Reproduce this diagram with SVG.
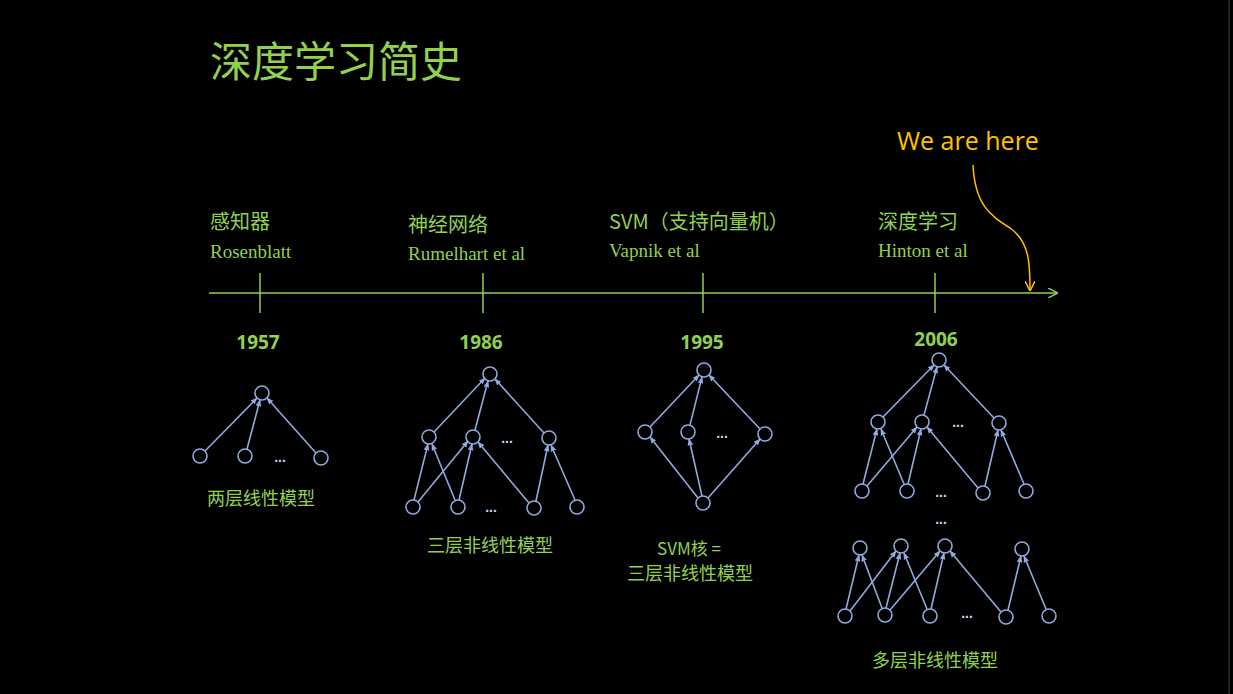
<svg xmlns="http://www.w3.org/2000/svg" width="1233" height="694" viewBox="0 0 1233 694">
<defs>
<marker id="a" viewBox="0 0 10 10" refX="9" refY="5" markerWidth="7" markerHeight="7" orient="auto-start-reverse" markerUnits="userSpaceOnUse"><path d="M0,1 L10,5 L0,9 z" fill="#8faadc"/></marker>
<marker id="g" viewBox="0 0 10 10" refX="9" refY="5" markerWidth="10" markerHeight="10" orient="auto" markerUnits="userSpaceOnUse"><path d="M0,0 L10,5 L0,10" fill="none" stroke="#92d050" stroke-width="1.5"/></marker>
<marker id="o" viewBox="0 0 10 10" refX="9" refY="5" markerWidth="10" markerHeight="10" orient="auto" markerUnits="userSpaceOnUse"><path d="M0,0 L10,5 L0,10" fill="none" stroke="#ffc000" stroke-width="1.5"/></marker>
<style>
.n{fill:none;stroke:#8faadc;stroke-width:1.6}
.e{stroke:#8faadc;stroke-width:1.6;marker-end:url(#a)}
.cn{font-family:"Noto Sans CJK SC",sans-serif;fill:#92d050}
.en{font-family:"Liberation Serif",serif;fill:#92d050;font-size:19px}
.yr{font-family:"Open Sans","Liberation Sans",sans-serif;font-weight:bold;fill:#92d050;font-size:19px;text-anchor:middle}
.dt{font-family:"Liberation Sans",sans-serif;font-weight:bold;fill:#c6d9f1;font-size:14px;text-anchor:middle}
.tk{stroke:#92d050;stroke-width:1.5}
</style>
</defs>
<rect width="1233" height="694" fill="#000"/>
<line x1="1229" y1="0" x2="1229" y2="694" stroke="#444" stroke-width="1"/>
<text x="210" y="77" class="cn" font-size="42">深度学习简史</text>
<text x="897" y="150" font-family="Open Sans,Liberation Sans,sans-serif" font-size="25" fill="#ffc000">We are here</text>
<g id="axis">
<line x1="209" y1="293" x2="1057" y2="293" stroke="#92d050" stroke-width="1.5" marker-end="url(#g)"/>
<line class="tk" x1="260" y1="273" x2="260" y2="313"/>
<line class="tk" x1="483" y1="273" x2="483" y2="313"/>
<line class="tk" x1="703" y1="273" x2="703" y2="313"/>
<line class="tk" x1="935" y1="273" x2="935" y2="313"/>
<path d="M973,165 C975,205 990,215 1010,228 C1030,242 1030,265 1030,290" fill="none" stroke="#ffc000" stroke-width="1.5" marker-end="url(#o)"/>
</g>
<g id="labels">
<text x="210" y="229" class="cn" font-size="20">感知器</text>
<text x="210" y="258" class="en">Rosenblatt</text>
<text x="408" y="232" class="cn" font-size="20">神经网络</text>
<text x="408" y="260" class="en">Rumelhart et al</text>
<text x="609" y="229" class="cn" font-size="20">SVM（支持向量机）</text>
<text x="609" y="257" class="en">Vapnik et al</text>
<text x="878" y="229" class="cn" font-size="20">深度学习</text>
<text x="878" y="257" class="en">Hinton et al</text>
<text x="258" y="349" class="yr">1957</text>
<text x="481" y="349" class="yr">1986</text>
<text x="702" y="349" class="yr">1995</text>
<text x="936" y="346" class="yr">2006</text>
<text x="261" y="505" class="cn" font-size="18" text-anchor="middle">两层线性模型</text>
<text x="490" y="552" class="cn" font-size="18" text-anchor="middle">三层非线性模型</text>
<text x="689" y="555" class="cn" font-size="17" text-anchor="middle">SVM核 =</text>
<text x="690" y="580" class="cn" font-size="18" text-anchor="middle">三层非线性模型</text>
<text x="935" y="667" class="cn" font-size="18" text-anchor="middle">多层非线性模型</text>
<text x="280" y="462" class="dt">...</text>
<text x="507" y="443" class="dt">...</text>
<text x="491" y="512" class="dt">...</text>
<text x="722" y="438" class="dt">...</text>
<text x="958" y="427" class="dt">...</text>
<text x="941" y="497" class="dt">...</text>
<text x="941" y="524" class="dt">...</text>
<text x="967" y="618" class="dt">...</text>
</g>
<g id="connectors">
<line class="e" x1="205" y1="451" x2="257" y2="398"/>
<line class="e" x1="247" y1="449" x2="260" y2="400"/>
<line class="e" x1="316" y1="453" x2="267" y2="398"/>
<line class="e" x1="434" y1="432" x2="485" y2="378"/>
<line class="e" x1="475" y1="430" x2="488" y2="381"/>
<line class="e" x1="544" y1="433" x2="495" y2="379"/>
<line class="e" x1="414" y1="500" x2="428" y2="444"/>
<line class="e" x1="418" y1="502" x2="468" y2="441"/>
<line class="e" x1="455" y1="500" x2="432" y2="444"/>
<line class="e" x1="459" y1="500" x2="472" y2="444"/>
<line class="e" x1="529" y1="503" x2="478" y2="442"/>
<line class="e" x1="536" y1="501" x2="548" y2="445"/>
<line class="e" x1="575" y1="500" x2="551" y2="445"/>
<line class="e" x1="650" y1="427" x2="699" y2="375"/>
<line class="e" x1="690" y1="425" x2="702" y2="377"/>
<line class="e" x1="760" y1="429" x2="709" y2="375"/>
<line class="e" x1="698" y1="498" x2="650" y2="437"/>
<line class="e" x1="702" y1="496" x2="689" y2="439"/>
<line class="e" x1="708" y1="498" x2="760" y2="439"/>
<line class="e" x1="883" y1="417" x2="934" y2="365"/>
<line class="e" x1="924" y1="415" x2="937" y2="367"/>
<line class="e" x1="994" y1="418" x2="944" y2="365"/>
<line class="e" x1="863" y1="484" x2="877" y2="429"/>
<line class="e" x1="867" y1="486" x2="917" y2="427"/>
<line class="e" x1="904" y1="484" x2="881" y2="429"/>
<line class="e" x1="908" y1="484" x2="921" y2="429"/>
<line class="e" x1="978" y1="488" x2="927" y2="427"/>
<line class="e" x1="985" y1="486" x2="998" y2="430"/>
<line class="e" x1="1024" y1="484" x2="1001" y2="430"/>
<line class="e" x1="846" y1="609" x2="859" y2="555"/>
<line class="e" x1="850" y1="611" x2="896" y2="551"/>
<line class="e" x1="882" y1="608" x2="862" y2="555"/>
<line class="e" x1="886" y1="608" x2="900" y2="553"/>
<line class="e" x1="890" y1="610" x2="940" y2="551"/>
<line class="e" x1="927" y1="609" x2="904" y2="553"/>
<line class="e" x1="931" y1="609" x2="944" y2="553"/>
<line class="e" x1="1001" y1="612" x2="950" y2="551"/>
<line class="e" x1="1008" y1="610" x2="1021" y2="556"/>
<line class="e" x1="1046" y1="609" x2="1024" y2="556"/>
</g>
<g id="n1957"><circle class="n" cx="262" cy="393" r="7"/><circle class="n" cx="200" cy="456" r="7"/><circle class="n" cx="245" cy="456" r="7"/><circle class="n" cx="321" cy="458" r="7"/></g>
<g id="n1986"><circle class="n" cx="490" cy="374" r="7"/><circle class="n" cx="429" cy="437" r="7"/><circle class="n" cx="473" cy="437" r="7"/><circle class="n" cx="549" cy="438" r="7"/><circle class="n" cx="413" cy="507" r="7"/><circle class="n" cx="458" cy="507" r="7"/><circle class="n" cx="534" cy="508" r="7"/><circle class="n" cx="577" cy="507" r="7"/></g>
<g id="n1995"><circle class="n" cx="704" cy="370" r="7"/><circle class="n" cx="645" cy="432" r="7"/><circle class="n" cx="688" cy="432" r="7"/><circle class="n" cx="765" cy="434" r="7"/><circle class="n" cx="703" cy="503" r="7"/></g>
<g id="n2006a"><circle class="n" cx="939" cy="360" r="7"/><circle class="n" cx="878" cy="422" r="7"/><circle class="n" cx="922" cy="422" r="7"/><circle class="n" cx="999" cy="423" r="7"/><circle class="n" cx="862" cy="491" r="7"/><circle class="n" cx="907" cy="491" r="7"/><circle class="n" cx="983" cy="493" r="7"/><circle class="n" cx="1026" cy="491" r="7"/></g>
<g id="n2006b"><circle class="n" cx="860" cy="548" r="7"/><circle class="n" cx="901" cy="546" r="7"/><circle class="n" cx="945" cy="546" r="7"/><circle class="n" cx="1022" cy="549" r="7"/><circle class="n" cx="845" cy="616" r="7"/><circle class="n" cx="885" cy="615" r="7"/><circle class="n" cx="930" cy="616" r="7"/><circle class="n" cx="1006" cy="617" r="7"/><circle class="n" cx="1049" cy="616" r="7"/></g>
</svg>
